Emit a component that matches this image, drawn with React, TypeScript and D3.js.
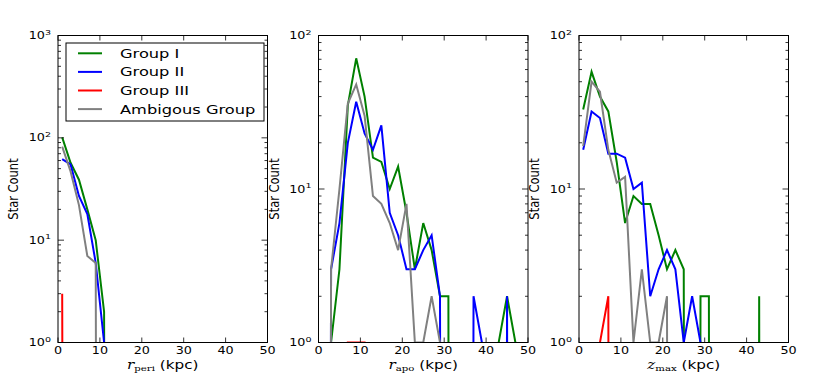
import React from 'react';
import * as d3 from 'd3';

// bin centres (kpc)
const binCenters = [1, 3, 5, 7, 9, 11, 13, 15, 17, 19, 21, 23, 25, 27, 29, 31, 33, 35, 37, 39, 41, 43, 45, 47, 49];

// r_peri
const periGroupI = [101, 57, 39, 20, 10, 2, 0, 0, 1, 0, 0, 0, 0, 0, 0, 0, 0, 0, 0, 0, 0, 0, 0, 0, 0];
const periGroupII = [62, 55, 27, 18, 6, 1, 0, 0, 0, 0, 0, 0, 0, 0, 0, 0, 0, 0, 0, 0, 0, 0, 0, 0, 0];
const periGroupIII = [3, 0, 1, 0, 0, 0, 0, 0, 0, 0, 0, 0, 0, 0, 0, 0, 0, 0, 0, 0, 0, 0, 0, 0, 0];
const periAmbig = [82, 47, 22, 7, 6, 0, 0, 0, 0, 0, 0, 0, 0, 0, 0, 0, 0, 0, 0, 0, 0, 0, 0, 0, 0];

// r_apo
const apoGroupI = [0, 1, 3, 35, 71, 40, 16, 15, 10, 14, 7, 3, 6, 4, 2, 2, 0, 1, 0, 0, 0, 1, 2, 1, 0];
const apoGroupII = [0, 3, 6, 20, 37, 23, 18, 26, 7, 5, 3, 3, 4, 5, 2, 0, 0, 0, 2, 1, 0, 0, 2, 0, 1];
const apoGroupIII = [0, 0, 0, 1, 1, 1, 0, 1, 0, 0, 0, 0, 0, 0, 0, 0, 0, 0, 0, 0, 0, 0, 0, 0, 0];
const apoAmbig = [0, 3, 10, 36, 48, 30, 9, 8, 6, 4, 8, 1, 1, 2, 1, 0, 0, 0, 0, 0, 0, 0, 0, 0, 0];

// z_max
const zGroupI = [33, 58, 40, 32, 15, 6, 9, 8, 8, 5, 3, 4, 3, 0, 2, 2, 0, 1, 0, 0, 0, 2, 0, 0, 0];
const zGroupII = [18, 32, 29, 17, 17, 16, 10, 11, 2, 3, 4, 3, 1, 2, 1, 0, 0, 0, 1, 0, 0, 0, 0, 0, 0];
const zGroupIII = [0, 0, 1, 2, 0, 0, 0, 0, 0, 0, 0, 0, 0, 0, 0, 0, 0, 0, 0, 0, 0, 0, 0, 0, 0];
const zAmbig = [19, 50, 43, 18, 11, 12, 1, 3, 1, 1, 2, 0, 0, 0, 0, 0, 0, 0, 0, 0, 0, 0, 0, 0, 0];

const seriesNames = ['Group I', 'Group II', 'Group III', 'Ambigous Group'];
const seriesColors = ['#008000', '#0000ff', '#ff0000', '#808080'];
const xTicks = [0, 10, 20, 30, 40, 50];

const LEFTS = [58, 318.5, 579];
const PW = 209.5;
const TOP = 35.5;
const BOT = 342.5;
const SX = 1.27;
const FONT = 'DejaVu Sans, sans-serif';
const SERIF = 'DejaVu Serif, Liberation Serif, serif';

type PanelProps = {
  idx: number;
  series: number[][];
  yMaxExp: number;
  xVar: string;
  xSub: string;
  legend?: boolean;
};

function Panel({ idx, series, yMaxExp, xVar, xSub, legend }: PanelProps) {
  const x0 = LEFTS[idx];
  const x = d3.scaleLinear().domain([0, 50]).range([x0, x0 + PW]);
  const y = d3.scaleLog().domain([1, Math.pow(10, yMaxExp)]).range([BOT, TOP]);
  const line = d3
    .line<number>()
    .x((_, i) => x(binCenters[i]))
    .y((d) => y(d > 0 ? d : 1e-30));
  const clipId = `clip-${idx}`;
  const majors = d3.range(0, yMaxExp + 1).map((e) => Math.pow(10, e));
  const minors: number[] = [];
  for (let e = 0; e < yMaxExp; e++) for (let m = 2; m <= 9; m++) minors.push(m * Math.pow(10, e));
  const x1 = x0 + PW;
  const cx = (x0 + x1) / 2;
  return (
    <g>
      <defs>
        <clipPath id={clipId}>
          <rect x={x0} y={TOP} width={PW} height={BOT - TOP} />
        </clipPath>
      </defs>
      <g clipPath={`url(#${clipId})`}>
        {series.map((s, i) => (
          <path key={i} d={line(s) || ''} fill="none" stroke={seriesColors[i]} strokeWidth={2} strokeLinejoin="miter" />
        ))}
      </g>
      {/* ticks */}
      {xTicks.map((t) => (
        <g key={'xt' + t}>
          <line x1={x(t)} x2={x(t)} y1={BOT} y2={BOT - 5} stroke="#000" strokeWidth={0.8} />
          <line x1={x(t)} x2={x(t)} y1={TOP} y2={TOP + 5} stroke="#000" strokeWidth={0.8} />
          <text
            transform={`translate(${x(t)},354) scale(${SX},1)`}
            textAnchor="middle"
            fontFamily={FONT}
            fontSize={10}
          >
            {t}
          </text>
        </g>
      ))}
      {majors.map((v, e) => (
        <g key={'ym' + e}>
          <line x1={x0} x2={x0 + 6} y1={y(v)} y2={y(v)} stroke="#000" strokeWidth={0.8} />
          <line x1={x1} x2={x1 - 6} y1={y(v)} y2={y(v)} stroke="#000" strokeWidth={0.8} />
          <text
            transform={`translate(${x0 - 7},${y(v) + 3.6}) scale(${SX},1)`}
            textAnchor="end"
            fontFamily={FONT}
            fontSize={10}
          >
            <tspan>10</tspan>
            <tspan fontSize={7.5} dy={-4.5}>{e}</tspan>
          </text>
        </g>
      ))}
      {minors.map((v, i) => (
        <g key={'yn' + i}>
          <line x1={x0} x2={x0 + 3} y1={y(v)} y2={y(v)} stroke="#000" strokeWidth={0.8} />
          <line x1={x1} x2={x1 - 3} y1={y(v)} y2={y(v)} stroke="#000" strokeWidth={0.8} />
        </g>
      ))}
      <rect x={x0} y={TOP} width={PW} height={BOT - TOP} fill="none" stroke="#000" strokeWidth={1} />
      {/* x label */}
      <text transform={`translate(${cx},369) scale(${SX},1)`} textAnchor="middle" fontSize={12} fontFamily={FONT}>
        <tspan fontFamily={SERIF} fontStyle="italic">{xVar}</tspan>
        <tspan fontFamily={SERIF} fontSize={8} dy={2}>{xSub}</tspan>
        <tspan dy={-2}>{' (kpc)'}</tspan>
      </text>
      {/* y label */}
      <text
        transform={`translate(${x0 - 40},${(TOP + BOT) / 2}) scale(${SX},1) rotate(-90)`}
        textAnchor="middle"
        fontSize={11.5}
        fontFamily={FONT}
      >
        Star Count
      </text>
      {legend && (
        <g>
          <rect x={66} y={43} width={198} height={78} fill="#fff" stroke="#000" strokeWidth={1} />
          {seriesNames.map((n, i) => {
            const ry = 53.3 + i * 18.6;
            return (
              <g key={n}>
                <line x1={78} x2={102} y1={ry} y2={ry} stroke={seriesColors[i]} strokeWidth={2} />
                <text
                  transform={`translate(120,${ry + 4.5}) scale(1.3,1)`}
                  fontSize={12.5}
                  fontFamily={FONT}
                >
                  {n}
                </text>
              </g>
            );
          })}
        </g>
      )}
    </g>
  );
}

export default function App() {
  return (
    <svg width={830} height={388} style={{ display: 'block', position: 'absolute', left: 0, top: 0, background: '#fff' }}>
      <rect x={0} y={0} width={830} height={388} fill="#fff" />
      <Panel idx={0} series={[periGroupI, periGroupII, periGroupIII, periAmbig]} yMaxExp={3} xVar="r" xSub="peri" legend />
      <Panel idx={1} series={[apoGroupI, apoGroupII, apoGroupIII, apoAmbig]} yMaxExp={2} xVar="r" xSub="apo" />
      <Panel idx={2} series={[zGroupI, zGroupII, zGroupIII, zAmbig]} yMaxExp={2} xVar="z" xSub="max" />
    </svg>
  );
}
